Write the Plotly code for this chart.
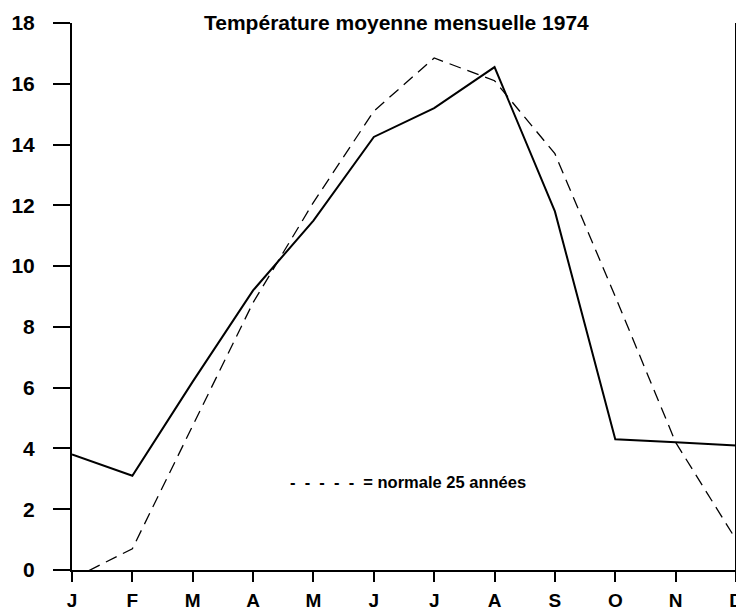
import plotly.graph_objects as go

months = ["J", "F", "M", "A", "M", "J", "J", "A", "S", "O", "N", "D"]
temp_1974 = [3.8, 3.1, 6.2, 9.2, 11.5, 14.25, 15.2, 16.55, 11.8, 4.3, 4.2, 4.1]
normale_25 = [-0.3, 0.7, 4.75, 8.8, 12.1, 15.1, 16.85, 16.1, 13.7, 9.0, 4.2, 1.0]
y_ticks = [0, 2, 4, 6, 8, 10, 12, 14, 16, 18]

title_text = "Température moyenne mensuelle 1974"
legend_dashes = "\u00a0\u00a0".join(["-"] * 5)
legend_text = legend_dashes + "\u00a0\u00a0= normale 25 années"

x = list(range(len(months)))

fig = go.Figure()
fig.add_trace(go.Scatter(x=x, y=normale_25, mode="lines",
                         line=dict(color="black", width=1.3, dash="12px,7px"),
                         showlegend=False, hoverinfo="skip"))
fig.add_trace(go.Scatter(x=x, y=temp_1974, mode="lines",
                         line=dict(color="black", width=2),
                         showlegend=False, hoverinfo="skip"))

font_family = "Liberation Sans, Arial, sans-serif"

fig.update_layout(
    width=736, height=603,
    margin=dict(l=64, r=8, t=15, b=41),
    paper_bgcolor="white", plot_bgcolor="white",
    font=dict(family=font_family, color="black"),
    xaxis=dict(range=[0, 11], tickvals=x, ticktext=["<b>%s</b>" % m for m in months],
               showgrid=False, zeroline=False, showline=True, linecolor="black", linewidth=2,
               ticks="outside", ticklen=10, tickwidth=1.5, tickcolor="black",
               tickfont=dict(size=19, family=font_family, color="black"),
               ticklabelstandoff=2, ticklabeloverflow="allow", automargin=False,
               fixedrange=True),
    yaxis=dict(range=[0, 18], tickvals=y_ticks, ticktext=["<b>%d</b>" % v for v in y_ticks],
               showgrid=False, zeroline=False, showline=True, linecolor="black", linewidth=2,
               ticks="outside", ticklen=17, tickwidth=1.5, tickcolor="black",
               tickfont=dict(size=21, family=font_family, color="black"),
               ticklabelstandoff=14, automargin=False,
               fixedrange=True),
    shapes=[dict(type="line", xref="x", yref="y", x0=11, x1=11, y0=0, y1=18.1,
                 line=dict(color="black", width=2), layer="above")],
    annotations=[
        dict(text="<b>%s</b>" % title_text, xref="paper", yref="paper", x=0.489, y=1.0,
             xanchor="center", yanchor="middle", yshift=1, showarrow=False,
             font=dict(size=21, family=font_family, color="black")),
        dict(text="<b>%s</b>" % legend_text, xref="x", yref="y", x=3.58, y=2.9,
             xanchor="left", yanchor="middle", showarrow=False,
             font=dict(size=16.5, family=font_family, color="black")),
    ],
)

fig.write_html("out.html")
